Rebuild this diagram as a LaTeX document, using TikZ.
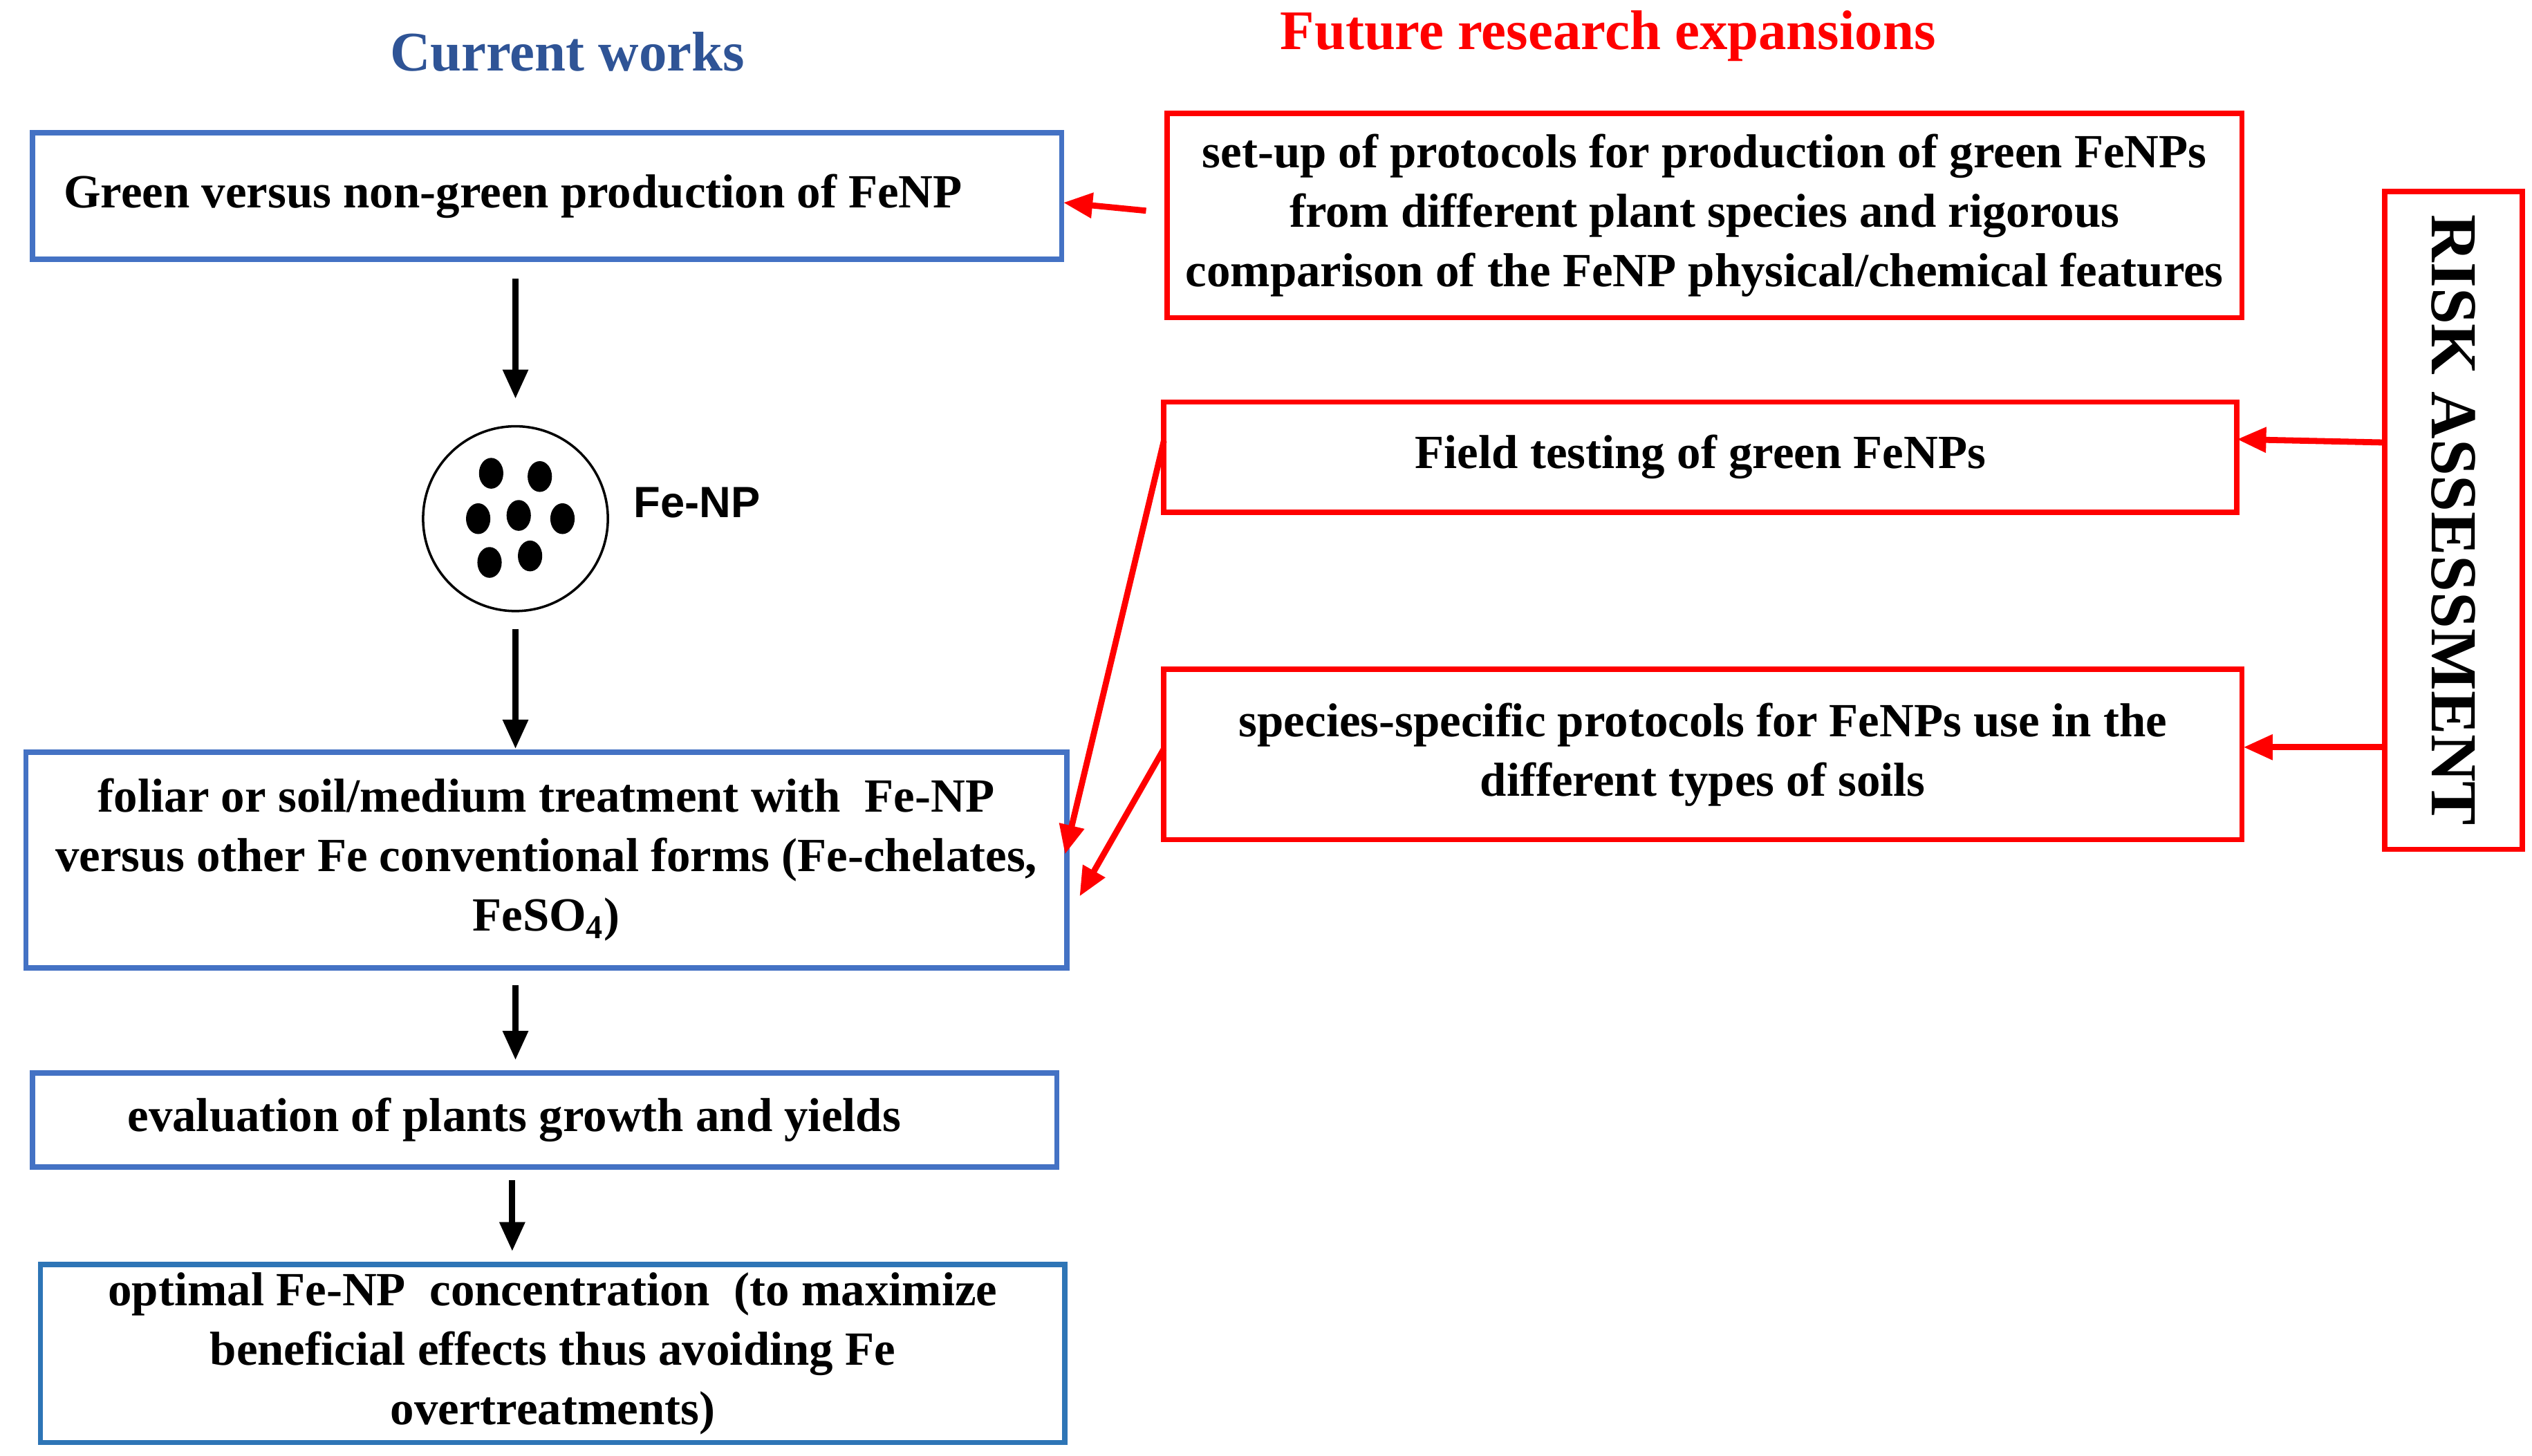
\documentclass[tikz,border=0pt]{standalone}
\usepackage{fontspec}
\setmainfont{Liberation Serif}
\newfontfamily\sans{Liberation Sans}
\usetikzlibrary{arrows.meta}
\definecolor{bl}{RGB}{68,114,196}
\definecolor{bl2}{RGB}{46,117,182}
\definecolor{tb}{RGB}{47,84,150}
\begin{document}
\begin{tikzpicture}[x=0.02344cm,y=-0.02344cm,
 bbox/.style={draw=bl,line width=2.2pt,inner sep=0pt,font=\bfseries\fontsize{19.6}{24.5}\selectfont,align=center},
 rbox/.style={draw=red,line width=2.2pt,inner sep=0pt,font=\bfseries\fontsize{19.6}{24.5}\selectfont,align=center},
 karr/.style={-{Triangle[length=12pt,width=10pt]},line width=2.5pt},
 rarr/.style={-{Triangle[length=12pt,width=10pt]},line width=2.5pt,red}]
\useasboundingbox (0,0) rectangle (1562,898);
\node[font=\bfseries\fontsize{23}{27}\selectfont,text=tb] (t1) at (350,32) {Current works};
\node[font=\bfseries\fontsize{23}{27}\selectfont,text=red] (t2) at (992,22) {Future research expansions};
\node[bbox,minimum width=635*0.02344cm,minimum height=78*0.02344cm] (b1) at (337.5,121) {\hspace*{-28pt}Green versus non-green production of FeNP};
\node[draw,circle,line width=1pt,minimum size=114*0.02344cm] (c) at (318,320) {};
\foreach \x/\y in {303/292,333/294,295/320,320/318,347/320,302/347,327/343}
  \fill (\x,\y) ellipse (7.5 and 9.5);
\node[font=\sans\bfseries\fontsize{18}{22}\selectfont] (fe) at (430,310) {Fe-NP};
\node[bbox,minimum width=642*0.02344cm,minimum height=133*0.02344cm] (b2) at (337,530.5) {foliar or soil/medium treatment with\ \ Fe-NP\\versus other Fe conventional forms (Fe-chelates,\\FeSO\textsubscript{4})};
\node[bbox,minimum width=632*0.02344cm,minimum height=58*0.02344cm] (b3) at (336,691) {\hspace*{-25pt}evaluation of plants growth and yields};
\node[bbox,draw=bl2,minimum width=632*0.02344cm,minimum height=110*0.02344cm] (b4) at (341,835) {optimal Fe-NP\ \ concentration\ \ (to maximize\\beneficial effects thus avoiding Fe\\overtreatments)};
\coordinate (a1s) at (318,172); \coordinate (a1e) at (318,246);
\draw[karr] (a1s) -- (a1e);
\coordinate (a2s) at (318,388); \coordinate (a2e) at (318,462);
\draw[karr] (a2s) -- (a2e);
\coordinate (a3s) at (318,608); \coordinate (a3e) at (318,654);
\draw[karr] (a3s) -- (a3e);
\coordinate (a4s) at (316,728); \coordinate (a4e) at (316,772);
\draw[karr] (a4s) -- (a4e);
\node[rbox,minimum width=663*0.02344cm,minimum height=126*0.02344cm] (r1) at (1051.5,133) {set-up of protocols for production of green FeNPs\\from different plant species and rigorous\\comparison of the FeNP physical/chemical features};
\node[rbox,minimum width=662*0.02344cm,minimum height=68*0.02344cm] (r2) at (1049,282) {Field testing of green FeNPs};
\node[rbox,minimum width=665*0.02344cm,minimum height=105*0.02344cm] (r3) at (1050.5,465.5) {species-specific protocols for FeNPs use in the\\different types of soils};
\node[rbox,minimum width=85*0.02344cm,minimum height=406*0.02344cm] (rk) at (1513.5,321) {};
\node[rotate=-90,font=\bfseries\fontsize{27}{27}\selectfont] (rkt) at (rk.center) {RISK ASSESSMENT};
\coordinate (p1) at (707,130); \coordinate (q1) at (656,125);
\draw[rarr] (p1) -- (q1);
\coordinate (p2) at (1471,273); \coordinate (q2) at (1380,271);
\draw[rarr] (p2) -- (q2);
\coordinate (p3) at (1471,461); \coordinate (q3) at (1384,461);
\draw[rarr] (p3) -- (q3);
\coordinate (p4) at (718,272); \coordinate (q4) at (657,527);
\draw[rarr] (p4) -- (q4);
\coordinate (p5) at (718,462); \coordinate (q5) at (666,553);
\draw[rarr] (p5) -- (q5);
\end{tikzpicture}
\end{document}
